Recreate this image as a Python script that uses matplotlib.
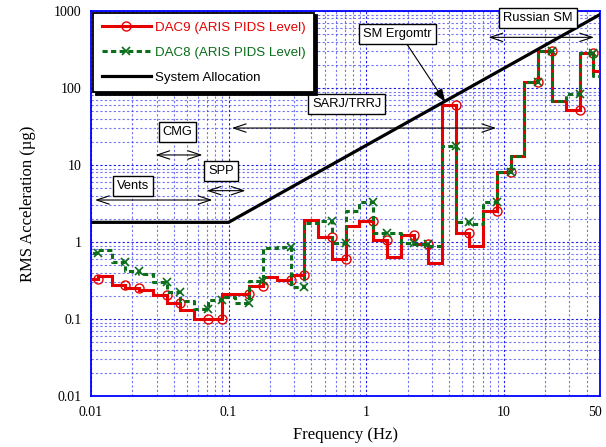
import numpy as np
import matplotlib
matplotlib.use('Agg')
import matplotlib.pyplot as plt
import matplotlib.transforms as mtransforms
from matplotlib.lines import Line2D
from matplotlib.ticker import FixedLocator, FixedFormatter, LogLocator, NullFormatter

# ---------------- data ----------------
band_centers = [0.01, 0.0125, 0.016, 0.02, 0.025, 0.0315, 0.04, 0.05, 0.063, 0.08,
                0.1, 0.125, 0.16, 0.2, 0.25, 0.315, 0.4, 0.5, 0.63, 0.8,
                1, 1.25, 1.6, 2, 2.5, 3.15, 4, 5, 6.3, 8,
                10, 12.5, 16, 20, 25, 31.5, 40, 50]
dac9 = [0.33, 0.36, 0.277, 0.25, 0.238, 0.205, 0.163, 0.131, 0.10, 0.10,
        0.21, 0.21, 0.265, 0.355, 0.32, 0.373, 1.93, 1.17, 0.6, 1.6,
        1.85, 1.05, 0.63, 1.23, 0.93, 0.54, 60, 1.3, 0.9, 2.5,
        8.2, 13, 120, 300, 68, 52, 285, 165]
dac8 = [0.72, 0.78, 0.55, 0.42, 0.38, 0.30, 0.225, 0.17, 0.134, 0.177,
        0.195, 0.16, 0.31, 0.83, 0.85, 0.263, 1.75, 1.9, 0.96, 2.5,
        3.3, 1.3, 1.3, 0.96, 0.95, 0.9, 17.5, 1.8, 1.7, 3.3,
        8.2, 13, 120, 300, 68, 84, 285, 145]
alloc_freq = [0.01, 0.1, 50]
alloc_level = [1.8, 1.8, 900]

x_ticks = [0.01, 0.1, 1, 10, 50]
x_tick_labels = ['0.01', '0.1', '1', '10', '50']
y_ticks = [0.01, 0.1, 1, 10, 100, 1000]
y_tick_labels = ['0.01', '0.1', '1', '10', '100', '1000']

series_labels = ['DAC9 (ARIS PIDS Level)', 'DAC8 (ARIS PIDS Level)', 'System Allocation']

# disturber frequency ranges (Hz)
disturber_names = ['Vents', 'SPP', 'CMG', 'SARJ/TRRJ', 'Russian SM']
disturber_ranges = [(0.0107, 0.0762), (0.0694, 0.1326), (0.0294, 0.0645),
                    (0.1056, 8.79), (7.74, 45.2)]
ergometer_label = 'SM Ergomtr'
ergometer_freq = 3.75

# ---------------- figure ----------------
RED = '#e60000'
GREEN = '#0a6e1a'
GRIDC = '#1a1aee'

fig = plt.figure(figsize=(6.06, 4.47), dpi=100)
ax = fig.add_axes([91/606, 1-396/447, 509/606, 385/447])
ax.set_xscale('log')
ax.set_yscale('log')
ax.set_xlim(0.01, 50)
ax.set_ylim(0.01, 1000)

centers = np.array(band_centers)
n = np.round(np.log10(centers) * 10)
lo = 10 ** ((n - 0.5) / 10)
hi = 10 ** ((n + 0.5) / 10)
edges = np.concatenate([lo[:1], hi])
mk_idx = [i for i in range(len(centers) - 1) if i % 3 != 1]

v9 = np.array(dac9)
v8 = np.array(dac8)

ax.plot(edges, np.append(v9, v9[-1]), drawstyle='steps-post', color=RED, lw=2.2,
        solid_joinstyle='miter', zorder=3)
ax.plot(hi[mk_idx], v9[mk_idx], ls='none', marker='o', ms=6.5, mfc='none', mec=RED,
        mew=1.0, zorder=3.2)
ax.plot(edges, np.append(v8, v8[-1]), drawstyle='steps-post', color=GREEN, lw=2.2,
        dashes=(1.7, 1.1), zorder=4)
ax.plot(hi[mk_idx], v8[mk_idx], ls='none', marker='x', ms=6, mec=GREEN,
        mew=1.2, zorder=4.2)
ax.plot(alloc_freq, alloc_level, color='black', lw=2.3, zorder=5)

# grid / axes styling
ax.xaxis.set_major_locator(FixedLocator(x_ticks))
ax.xaxis.set_major_formatter(FixedFormatter(x_tick_labels))
ax.xaxis.set_minor_locator(LogLocator(base=10, subs=np.arange(2, 10)))
ax.xaxis.set_minor_formatter(NullFormatter())
ax.yaxis.set_major_locator(FixedLocator(y_ticks))
ax.yaxis.set_major_formatter(FixedFormatter(y_tick_labels))
ax.yaxis.set_minor_locator(LogLocator(base=10, subs=np.arange(2, 10)))
ax.yaxis.set_minor_formatter(NullFormatter())

ax.grid(True, which='major', color=GRIDC, lw=0.8, dashes=(2, 2))
ax.grid(True, which='minor', color=GRIDC, lw=0.8, dashes=(2, 2), alpha=0.6)
ax.set_axisbelow(True)
for s in ax.spines.values():
    s.set_color('#0000ff')
    s.set_linewidth(1.3)
ax.tick_params(which='both', length=0, pad=7, labelsize=10)
for lab in ax.get_xticklabels() + ax.get_yticklabels():
    lab.set_fontfamily('Liberation Serif')
# keep the last x label inside the picture
last = ax.get_xticklabels()[-1]
last.set_transform(last.get_transform() +
                   mtransforms.ScaledTranslation(-5/100, 0, fig.dpi_scale_trans))

ax.set_xlabel('Frequency (Hz)', fontfamily='Liberation Serif', fontsize=12, labelpad=6)
ax.set_ylabel('RMS Acceleration (µg)', fontfamily='Liberation Serif', fontsize=12, labelpad=13)

# legend
handles = [
    Line2D([], [], color=RED, lw=2.2, marker='o', ms=6.5, mfc='none', mec=RED, mew=1.0),
    Line2D([], [], color=GREEN, lw=2.2, dashes=(1.7, 1.1), marker='x', ms=6, mec=GREEN, mew=1.2),
    Line2D([], [], color='black', lw=2.3),
]
leg = ax.legend(handles, series_labels, loc='upper left', bbox_to_anchor=(0.004, 0.996),
                borderaxespad=0, numpoints=1, handlelength=3.7, handletextpad=0.3,
                labelspacing=0.95, borderpad=0.65, fancybox=False,
                shadow={'color': 'black', 'alpha': 1},
                prop={'family': 'Liberation Sans', 'size': 9.6})
leg.get_frame().set_edgecolor('black')
leg.get_frame().set_linewidth(1.3)
leg.set_zorder(10)
for t, c in zip(leg.get_texts(), [RED, GREEN, 'black']):
    t.set_color(c)

# annotations
box = dict(boxstyle='square,pad=0.3', fc='white', ec='black', lw=1)
tfont = dict(family='Liberation Sans', size=9.3)
arrow_y = [3.51, 4.64, 13.5, 30.2, 455]
text_pos = [(0.0201, 5.34), (0.088, 8.36), (0.0424, 26.8), (0.725, 62), (17.7, 804)]
for name, (f0, f1), ay, (tx, ty) in zip(disturber_names, disturber_ranges, arrow_y, text_pos):
    ax.annotate('', xy=(f0, ay), xytext=(f1, ay),
                arrowprops=dict(arrowstyle='<->,head_length=0.9,head_width=0.3',
                                lw=0.8, color='black', shrinkA=0, shrinkB=0), zorder=6)
    ax.text(tx, ty, name, ha='center', va='center', bbox=box, zorder=7, **tfont)

ax.text(1.69, 503, ergometer_label, ha='center', va='center', bbox=box, zorder=7, **tfont)
ax.annotate('', xy=(ergometer_freq, 66), xytext=(1.93, 396),
            arrowprops=dict(arrowstyle='-|>,head_length=0.8,head_width=0.3',
                            lw=0.8, color='black', shrinkA=0, shrinkB=0), zorder=6)

fig.savefig('out.png', dpi=100)
